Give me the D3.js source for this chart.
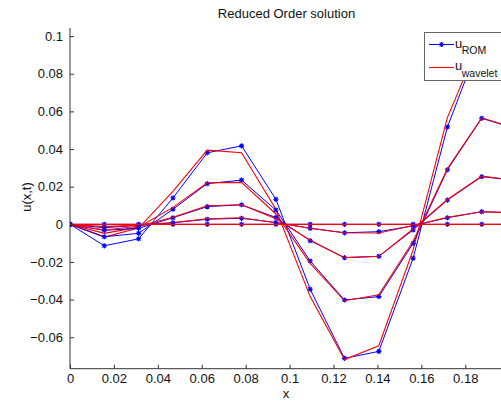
<!DOCTYPE html>
<html>
<head>
<meta charset="utf-8">
<script src="https://cdn.jsdelivr.net/npm/d3@7"></script>
<style>
  html, body { margin: 0; padding: 0; background: #fff; }
  svg { display: block; font-family: "Liberation Sans", Arial, Helvetica, sans-serif; }
</style>
</head>
<body>
<svg id="chart" width="501" height="402"></svg>
<script>
// Grid nodes along x
const xNodes = [0, 0.015625, 0.03125, 0.046875, 0.0625, 0.078125, 0.09375,
                0.109375, 0.125, 0.140625, 0.15625, 0.171875, 0.1875, 0.203125];

// Reduced order model snapshots (blue, starred)
const romSnap1 = [0, -0.0114, -0.0077, 0.0140, 0.0380, 0.0417, 0.0133, -0.0345, -0.0712, -0.0675, -0.0180, 0.0517, 0.0995, 0.0900];
const romSnap2 = [0, -0.0066, -0.0048, 0.0080, 0.0216, 0.0235, 0.0076, -0.0195, -0.0402, -0.0384, -0.0101, 0.0290, 0.0563, 0.0508];
const romSnap3 = [0, -0.0032, -0.0021, 0.0035, 0.0094, 0.0104, 0.0036, -0.0087, -0.0177, -0.0170, -0.0030, 0.0129, 0.0253, 0.0233];
const romSnap4 = [0, -0.0018, -0.0005, 0.0008, 0.0027, 0.0032, 0.0010, -0.0021, -0.0045, -0.0039, -0.0008, 0.0035, 0.0067, 0.0061];
const romSnap5 = [0, 0, 0, 0, 0, 0, 0, 0, 0, 0, 0, 0, 0, 0];

// Wavelet reference snapshots (red)
const wavSnap1 = [0, -0.0068, -0.0020, 0.0175, 0.0394, 0.0380, 0.0080, -0.0384, -0.0718, -0.0645, -0.0136, 0.0568, 0.1000, 0.0900];
const wavSnap2 = [0, -0.0048, -0.0015, 0.0090, 0.0221, 0.0223, 0.0055, -0.0207, -0.0406, -0.0374, -0.0090, 0.0297, 0.0566, 0.0508];
const wavSnap3 = [0, -0.0030, -0.0010, 0.0038, 0.0099, 0.0104, 0.0030, -0.0085, -0.0177, -0.0170, -0.0025, 0.0132, 0.0256, 0.0233];
const wavSnap4 = [0, -0.0012, -0.0004, 0.0010, 0.0030, 0.0035, 0.0008, -0.0021, -0.0045, -0.0046, -0.0006, 0.0038, 0.0067, 0.0061];
const wavSnap5 = [0, 0, 0, 0, 0, 0, 0, 0, 0, 0, 0, 0, 0, 0];

const xTicks = [0, 0.02, 0.04, 0.06, 0.08, 0.1, 0.12, 0.14, 0.16, 0.18];
const yTicks = [-0.06, -0.04, -0.02, 0, 0.02, 0.04, 0.06, 0.08, 0.1];

const titleText = "Reduced Order solution";
const xLabel = "x";
const yLabel = "u(x,t)";

const romSeries = [romSnap1, romSnap2, romSnap3, romSnap4, romSnap5];
const wavSeries = [wavSnap1, wavSnap2, wavSnap3, wavSnap4, wavSnap5];

const svg = d3.select("#chart");
const padL = 70, padR = 509.2, padT = 28, padB = 368.7;

const x = d3.scaleLinear().domain([0, 0.2]).range([padL, padR]);
const y = d3.scaleLinear().domain([-0.0767, 0.1043]).range([padB, padT]);

svg.append("defs").append("clipPath").attr("id", "plotClip")
  .append("rect").attr("x", padL).attr("y", padT)
  .attr("width", padR - padL).attr("height", padB - padT);

const plot = svg.append("g").attr("clip-path", "url(#plotClip)");

const line = d3.line().x((d, i) => x(xNodes[i])).y(d => y(d));

// asterisk marker: plus + cross
function starPath(r) {
  const d = r * 0.72;
  return `M${-r},0L${r},0M0,${-r}L0,${r}M${-d},${-d}L${d},${d}M${-d},${d}L${d},${-d}`;
}

romSeries.forEach((vals, j) => {
  plot.append("path").datum(vals)
    .attr("fill", "none").attr("stroke", "#0000ff").attr("stroke-width", 1)
    .attr("d", line);
  plot.selectAll(null).data(vals).enter().append("path")
    .attr("transform", (d, i) => `translate(${x(xNodes[i])},${y(d)})`)
    .attr("d", starPath(2.6))
    .attr("fill", "none").attr("stroke", "#0000ff").attr("stroke-width", 1.1);
  plot.append("path").datum(wavSeries[j])
    .attr("fill", "none").attr("stroke", "#ff0000").attr("stroke-width", 1.1)
    .attr("d", line);
});

// axes
const axisColor = "#333";
const xAxis = svg.append("g").attr("transform", `translate(0,${padB})`)
  .call(d3.axisBottom(x).tickValues(xTicks).tickSize(-4).tickPadding(5)
        .tickFormat(d => d3.format("")(+d.toFixed(2))));
const yAxis = svg.append("g").attr("transform", `translate(${padL},0)`)
  .call(d3.axisLeft(y).tickValues(yTicks).tickSize(-4).tickPadding(7)
        .tickFormat(d => d3.format("")(+d.toFixed(2))));
[xAxis, yAxis].forEach(g => {
  g.select(".domain").attr("stroke", axisColor).attr("stroke-width", 1);
  g.selectAll(".tick line").attr("stroke", axisColor);
  g.selectAll(".tick text").attr("fill", "#111").attr("font-size", 13)
    .attr("font-family", "Liberation Sans, Arial, sans-serif");
});
xAxis.select(".domain").attr("d", `M${padL},0H${padR}`);
yAxis.select(".domain").attr("d", `M0,${padT}V${padB}`);

svg.append("text").attr("x", 286.5).attr("y", 17.5)
  .attr("text-anchor", "middle").attr("font-size", 13).attr("fill", "#111")
  .text(titleText);
svg.append("text").attr("x", 286).attr("y", 397.5)
  .attr("text-anchor", "middle").attr("font-size", 13).attr("fill", "#111")
  .text(xLabel);
svg.append("text").attr("transform", "translate(31,197) rotate(-90)")
  .attr("text-anchor", "middle").attr("font-size", 13).attr("fill", "#111")
  .text(yLabel);

// legend
const leg = svg.append("g");
leg.append("rect").attr("x", 424.5).attr("y", 32.5).attr("width", 90).attr("height", 48)
  .attr("fill", "#fff").attr("stroke", "#666").attr("stroke-width", 1);
leg.append("line").attr("x1", 429).attr("x2", 454).attr("y1", 44.5).attr("y2", 44.5)
  .attr("stroke", "#0000ff").attr("stroke-width", 1);
leg.append("path").attr("transform", "translate(441.5,44.5)").attr("d", starPath(2.6))
  .attr("fill", "none").attr("stroke", "#0000ff").attr("stroke-width", 1.1);
leg.append("line").attr("x1", 429).attr("x2", 454).attr("y1", 67.5).attr("y2", 67.5)
  .attr("stroke", "#ff0000").attr("stroke-width", 1.1);

const t1 = leg.append("text").attr("x", 455).attr("y", 47.5).attr("font-size", 13).attr("fill", "#111");
t1.append("tspan").text("u");
t1.append("tspan").attr("dy", 6.5).attr("dx", -0.5).attr("font-size", 10.5).text("ROM");
const t2 = leg.append("text").attr("x", 455).attr("y", 70).attr("font-size", 13).attr("fill", "#111");
t2.append("tspan").text("u");
t2.append("tspan").attr("dy", 6.5).attr("dx", -0.5).attr("font-size", 10.5).text("wavelet");
</script>
</body>
</html>
